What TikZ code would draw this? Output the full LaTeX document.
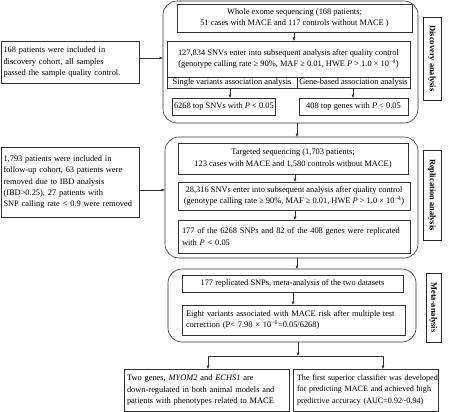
\documentclass[tikz,border=0pt]{standalone}
\usepackage{fontspec}
\setmainfont{Liberation Serif}
\usetikzlibrary{arrows.meta}
\newcommand\pbox[7][]{\node[bx,anchor=north west,minimum width=#5pt-#3pt,minimum height=#6pt-#4pt,#1] (#2) at (#3,#4) {#7};}
\begin{document}
\begin{tikzpicture}[x=1pt,y=-1pt,
  font=\fontsize{8.4}{11.3}\selectfont,
  bx/.style={draw=black!80, line width=0.5pt, inner sep=2pt, outer sep=0pt},
  reg/.style={draw=black!80, line width=0.6pt, rounded corners=14pt},
  arr/.style={-{Latex[length=3.5pt,width=3pt]}, line width=0.5pt, draw=black!80},
  ln/.style={line width=0.5pt, draw=black!80},
  lab/.style={draw=black!85, line width=0.6pt, font=\bfseries\fontsize{8.4}{9}\selectfont, rotate=-90, inner sep=1pt, outer sep=0pt}]
\useasboundingbox (0,0) rectangle (455,412);
% regions
\pbox[reg]{disc}{163}{1}{418}{123}{}
\pbox[reg]{rep}{165}{137}{418}{258}{}
\pbox[reg]{meta}{168}{269}{416}{342}{}
% left boxes
\pbox[text width=133pt, align=left]{pa}{1}{41}{139}{83}{168 patients were included in\\discovery cohort, all samples\\passed the sample quality control.}
\pbox[text width=133pt, align=left]{pb}{1}{147}{139}{217}{1,793 patients were included in\\follow-up cohort, 63 patients were\\removed due to IBD analysis\\(IBD>0.25), 27 patients with\\SNP calling rate < 0.9 were removed}
% discovery
\pbox[align=center]{wes}{177}{4}{412}{32}{Whole exome sequencing (168 patients;\\51 cases with MACE and 117 controls without MACE )}
\pbox[align=center, inner sep=1pt]{qc1}{167}{41}{410}{77}{127,834 SNVs enter into subsequent analysis after quality control\\(genotype calling rate ≥ 90\%, MAF ≥ 0.01, HWE \textit{P} > 1.0 × 10\textsuperscript{−4})}
\pbox[inner sep=1pt]{sv}{167}{77}{297}{88}{Single variants association analysis}
\pbox[inner sep=1pt]{gb}{297}{77}{410}{88}{Gene-based association analysis}
\pbox{tsn}{172}{98}{251}{115}{6268 top SNVs with \textit{P} < 0.05}
\pbox{tgn}{299}{98}{408}{115}{408 top genes with \textit{P} < 0.05}
\node[lab, minimum width=83pt, minimum height=18pt] (ld) at (432,58.5) {Discovery analysis};
% replication
\pbox[align=center]{tgs}{178}{143}{408}{174}{Targeted sequencing (1,703 patients;\\123 cases with MACE and 1,580 controls without MACE)}
\pbox[align=center, inner sep=1pt]{qc2}{178}{182}{410}{210}{28,316 SNVs enter into subsequent analysis after quality control\\(genotype calling rate ≥ 90\%, MAF ≥ 0.01, HWE \textit{P} > 1.0 × 10\textsuperscript{−4})}
\pbox[text width=224pt, align=left]{rr}{178}{220}{410}{253}{177 of the 6268 SNPs and 82 of the 408 genes were replicated\\with \textit{P} < 0.05}
\node[lab, minimum width=90pt, minimum height=18pt] (lr) at (432,195) {Replication analysis};
% meta
\pbox[align=center]{rs}{182}{275}{403}{292}{177 replicated SNPs, meta-analysis of the two datasets}
\pbox[text width=215pt, align=left]{ev}{182}{305}{405}{335}{Eight variants associated with MACE risk after multiple test\\correction (P< 7.98 × 10\textsuperscript{−6}=0.05/6268)}
\node[lab, minimum width=69pt, minimum height=15pt] (lm) at (433.5,307.5) {Meta-analysis};
% bottom
\pbox[text width=159pt, align=left]{bl}{124}{369}{289}{411}{Two genes, \textit{MYOM2} and \textit{ECHS1} are\\down-regulated in both animal models and\\patients with phenotypes related to MACE}
\pbox[text width=137pt, inner sep=3pt, align=left, font=\fontsize{8.1}{11.3}\selectfont]{br}{293}{369}{438}{411}{\makebox[137pt][s]{The first superior classifier was developed}\\\makebox[137pt][s]{for predicting MACE and achieved high}\\predictive accuracy (AUC=0.92\textasciitilde0.94)}
% connectors
\coordinate (ya) at (0,58);
\coordinate (yb) at (0,190);
\draw[arr] (pa.east |- ya) -- (disc.west |- ya);
\draw[arr] (pb.east |- yb) -- (rep.west |- yb);
\coordinate (c1) at (294,0);
\draw[arr] (wes.south -| c1) -- (qc1.north -| c1);
\coordinate (c2) at (230,0);
\draw[arr] (sv.south -| c2) -- (tsn.north -| c2);
\coordinate (c3) at (353,0);
\draw[arr] (gb.south -| c3) -- (tgn.north -| c3);
\coordinate (c4) at (297,0);
\draw[arr] (disc.south -| c4) -- (rep.north -| c4);
\coordinate (c5) at (295,0);
\draw[arr] (tgs.south -| c5) -- (qc2.north -| c5);
\draw[arr] (qc2.south -| c5) -- (rr.north -| c5);
\draw[arr] (rep.south -| c4) -- (meta.north -| c4);
\coordinate (c6) at (293,0);
\draw[arr] (rs.south -| c6) -- (ev.north -| c6);
\coordinate (j) at (298,356);
\coordinate (jl) at (208,356);
\coordinate (jr) at (383,356);
\draw[arr] (meta.south -| j) -- (j);
\draw[ln] (jl) -- (jr);
\draw[arr] (jl) -- (bl.north -| jl);
\draw[arr] (jr) -- (br.north -| jr);
\end{tikzpicture}
\end{document}
